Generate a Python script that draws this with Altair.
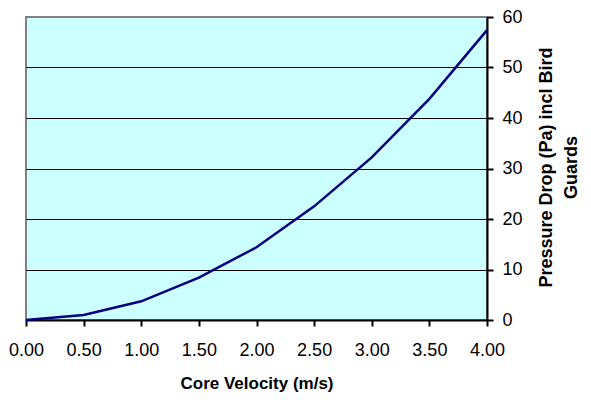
import altair as alt
import pandas as pd

velocity = [0.0, 0.5, 1.0, 1.5, 2.0, 2.5, 3.0, 3.5, 4.0]
pressure = [0.0, 1.0, 3.7, 8.4, 14.4, 22.5, 32.2, 43.8, 57.4]
x_ticks = [0.0, 0.5, 1.0, 1.5, 2.0, 2.5, 3.0, 3.5, 4.0]
y_ticks = [0, 10, 20, 30, 40, 50, 60]

df = pd.DataFrame({"v": velocity, "p": pressure})

FONT = "Liberation Sans"

chart = alt.Chart(df).mark_line(color="#000080", strokeWidth=2.5).encode(
    x=alt.X("v:Q", scale=alt.Scale(domain=[0, 4], nice=False, zero=False),
            axis=alt.Axis(values=x_ticks, format=".2f", title="Core Velocity (m/s)",
                          grid=False, domainColor="black", domainWidth=2,
                          tickColor="black", tickWidth=2, tickSize=6,
                          labelPadding=15, labelFontSize=18, labelColor="black",
                          labelFont=FONT, labelFlush=False,
                          titleFont=FONT, titleFontSize=17, titleFontWeight="bold",
                          titleColor="black", titleBaseline="middle", titleY=63)),
    y=alt.Y("p:Q", scale=alt.Scale(domain=[0, 60], nice=False),
            axis=alt.Axis(orient="right", values=y_ticks, title=["Pressure Drop (Pa) incl Bird", "Guards"],
                          grid=True,
                          gridColor={"condition": {"test": "datum.value === 60", "value": "#808080"}, "value": "black"},
                          gridWidth=1.2,
                          domainColor="black", domainWidth=2,
                          tickColor="black", tickWidth=2, tickSize=6,
                          labelPadding=9, labelFontSize=18, labelColor="black",
                          labelFont=FONT,
                          titleFont=FONT, titleFontSize=18, titleFontWeight="bold",
                          titleColor="black", titleAngle=270, titleBaseline="alphabetic",
                          titleAlign="center", titleX=64, titleY=150, titleLineHeight=25)),
).properties(
    width=461, height=303,
    autosize=alt.AutoSizeParams(type="none"),
    padding={"left": 18, "top": 9, "right": 96, "bottom": 72},
).configure_view(
    fill="#CCFFFF", stroke="#808080", strokeWidth=2
)

chart.save("out.html", embed_options={"renderer": "svg", "actions": False})
